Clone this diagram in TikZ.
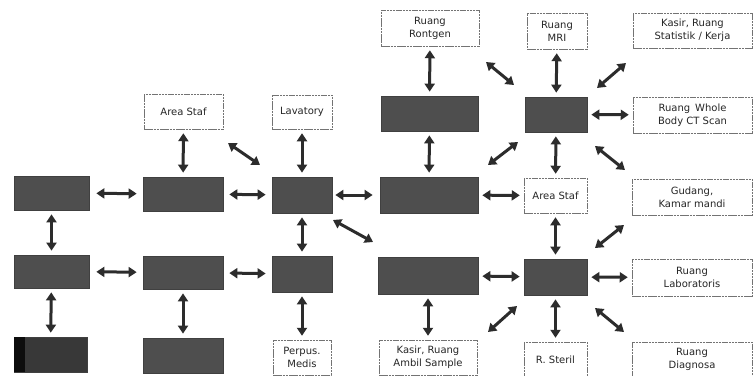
\documentclass[tikz,border=0pt]{standalone}
\usepackage{fontspec}
\setmainfont{DejaVu Sans}
\usetikzlibrary{arrows.meta}
\definecolor{dkgray}{HTML}{4E4E4E}
\definecolor{arrowc}{HTML}{2C2C2C}
\tikzset{
  wbox/.style={draw=black!55, line width=0.5pt, dash pattern=on 2.5pt off 0.7pt, fill=white,
    align=center, font=\fontsize{10}{13}\selectfont, inner sep=1pt, text=black!85},
  dbox/.style={draw=black!75, fill=dkgray, line width=0.7pt, inner sep=0pt},
  arr/.style={line width=3pt, draw=arrowc,
    {Triangle[length=8pt,width=10pt]}-{Triangle[length=8pt,width=10pt]},
    shorten >=4pt, shorten <=4pt}
}
\begin{document}
\begin{tikzpicture}[x=1pt,y=-1pt]
\useasboundingbox[fill=white] (0,0) rectangle (755,375);
% row 1
\node[wbox, minimum width=98pt, minimum height=36pt] (rontgen) at (430,28) {Ruang\\Rontgen};
\node[wbox, minimum width=60pt, minimum height=36pt] (mri) at (557,31) {Ruang\\MRI};
\node[wbox, minimum width=119pt, minimum height=35pt] (kasirA) at (692.5,30.5) {Kasir, Ruang\\Statistik / Kerja};
% row 2
\node[wbox, minimum width=79pt, minimum height=35pt] (stafL) at (183.5,111.5) {Area Staf};
\node[wbox, minimum width=60pt, minimum height=34pt] (lav) at (302,112) {Lavatory};
\node[dbox, minimum width=97pt, minimum height=35pt] (dR2) at (429.5,113.5) {};
\node[dbox, minimum width=62pt, minimum height=35pt] (dM2) at (556,114.5) {};
\node[wbox, minimum width=119pt, minimum height=36pt] (ct) at (692.5,115) {Ruang\enspace Whole\\Body CT Scan};
% row 3
\node[dbox, minimum width=75pt, minimum height=34pt] (dA3) at (51.5,193) {};
\node[dbox, minimum width=80pt, minimum height=34pt] (dB3) at (183,194) {};
\node[dbox, minimum width=60pt, minimum height=36pt] (dC3) at (302,195) {};
\node[dbox, minimum width=98pt, minimum height=36pt] (dD3) at (429,195) {};
\node[wbox, minimum width=63pt, minimum height=35pt] (stafR) at (555.5,195.5) {Area Staf};
\node[wbox, minimum width=120pt, minimum height=36pt] (gudang) at (692,197) {Gudang,\\Kamar mandi};
% row 4
\node[dbox, minimum width=75pt, minimum height=33pt] (dA4) at (51.5,271.5) {};
\node[dbox, minimum width=80pt, minimum height=33pt] (dB4) at (183,272.5) {};
\node[dbox, minimum width=60pt, minimum height=36pt] (dC4) at (302,274) {};
\node[dbox, minimum width=100pt, minimum height=37pt] (dD4) at (428,275.5) {};
\node[dbox, minimum width=63pt, minimum height=36pt] (dE4) at (555.5,277) {};
\node[wbox, minimum width=120pt, minimum height=37pt] (lab) at (692,277.5) {Ruang\\Laboratoris};
% row 5
\node[dbox, fill=black!78, minimum width=73pt, minimum height=35pt] (dA5) at (50.5,354.5) {};
\fill[black!95] (dA5.north west) rectangle ([xshift=11pt]dA5.south west);
\node[dbox, minimum width=80pt, minimum height=35pt] (dB5) at (183,355.5) {};
\node[wbox, minimum width=58pt, minimum height=35pt] (perpus) at (302,357.5) {Perpus.\\Medis};
\node[wbox, minimum width=98pt, minimum height=35pt] (kasirB) at (428,357.5) {Kasir, Ruang\\Ambil Sample};
\node[wbox, minimum width=63pt, minimum height=35pt] (steril) at (555.5,359.5) {R. Steril};
\node[wbox, minimum width=120pt, minimum height=35pt] (diag) at (692,359.5) {Ruang\\Diagnosa};
% vertical arrows
\draw[arr] (rontgen) -- (dR2);
\draw[arr] (mri) -- (dM2);
\draw[arr] (stafL) -- (dB3);
\draw[arr] (lav) -- (dC3);
\draw[arr] (dR2) -- (dD3);
\draw[arr] (dM2) -- (stafR);
\draw[arr] (dA3) -- (dA4);
\draw[arr] (dC3) -- (dC4);
\draw[arr] (stafR) -- (dE4);
\draw[arr] (dA4) -- (dA5);
\draw[arr] (dB4) -- (dB5);
\draw[arr] (dC4) -- (perpus);
\draw[arr] (dD4) -- (kasirB);
\draw[arr] (dE4) -- (steril);
% horizontal arrows
\draw[arr, shorten <=7pt, shorten >=6pt] (dA3) -- (dB3);
\draw[arr, shorten <=6pt, shorten >=6pt] (dB3) -- (dC3);
\draw[arr, shorten <=3pt, shorten >=7pt] (dC3) -- (dD3);
\draw[arr] (dD3) -- (stafR);
\draw[arr, shorten <=7pt, shorten >=6pt] (dA4) -- (dB4);
\draw[arr, shorten <=6pt, shorten >=6pt] (dB4) -- (dC4);
\draw[arr] (dD4) -- (dE4);
\draw[arr] (dE4) -- (lab);
\draw[arr] (dM2) -- (ct);
% diagonal arrows
\coordinate (d1a) at (486,62);  \coordinate (d1b) at (514,85);
\coordinate (d2a) at (597,88);  \coordinate (d2b) at (626,63);
\coordinate (d3a) at (595,146); \coordinate (d3b) at (625,170);
\coordinate (d4a) at (488,165); \coordinate (d4b) at (518,142);
\coordinate (d5a) at (333,220); \coordinate (d5b) at (373,242);
\coordinate (d6a) at (228,143); \coordinate (d6b) at (260,165);
\coordinate (d7a) at (595,248); \coordinate (d7b) at (624,225);
\coordinate (d8a) at (595,308); \coordinate (d8b) at (624,332);
\coordinate (d9a) at (488,332); \coordinate (d9b) at (517,306);
\foreach \p in {1,...,9}{\draw[arr, shorten <=0pt, shorten >=0pt] (d\p a) -- (d\p b);}
\end{tikzpicture}
\end{document}
